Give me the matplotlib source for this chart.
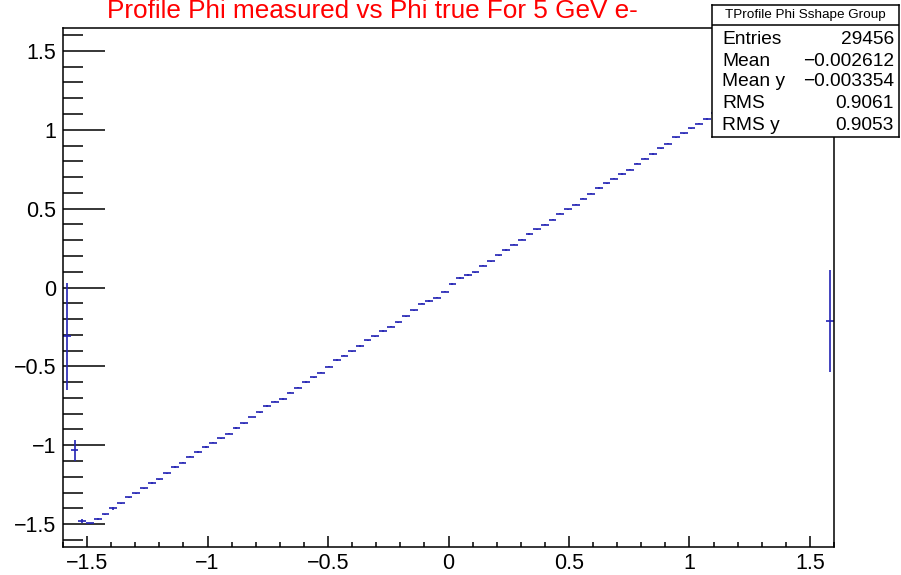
import numpy as np
import matplotlib
matplotlib.use("Agg")
import matplotlib.pyplot as plt
from matplotlib.ticker import MultipleLocator

plt.rcParams['font.family'] = ['Liberation Sans', 'DejaVu Sans']

# ---- data: TProfile, 100 bins from -1.6 to 1.6 ----
x_min, x_max, n_bins = -1.6, 1.6, 100
profile_mean = [
    -0.31, -1.032, -1.481, -1.495, -1.470, -1.438, -1.400, -1.368, -1.330, -1.305,
    -1.273, -1.241, -1.216, -1.178, -1.140, -1.110, -1.072, -1.043, -1.013, -0.983,
    -0.956, -0.926, -0.888, -0.860, -0.821, -0.792, -0.754, -0.724, -0.704, -0.666,
    -0.634, -0.598, -0.568, -0.539, -0.501, -0.462, -0.433, -0.403, -0.373, -0.335,
    -0.308, -0.276, -0.249, -0.220, -0.181, -0.143, -0.103, -0.084, -0.065, -0.027,
    0.022, 0.060, 0.079, 0.098, 0.138, 0.166, 0.205, 0.235, 0.272, 0.302,
    0.340, 0.369, 0.399, 0.429, 0.467, 0.497, 0.526, 0.564, 0.594, 0.632,
    0.662, 0.689, 0.719, 0.748, 0.786, 0.816, 0.846, 0.884, 0.911, 0.951,
    0.979, 1.008, 1.038, 1.068, 1.106, 1.135, 1.165, 1.196, 1.228, 1.258,
    1.290, 1.322, 1.352, 1.384, 1.414, 1.445, 1.470, 1.490, 1.480, -0.211,
]
profile_err = [
    0.34, 0.067, 0.012, 0.003, 0.006, 0.003, 0.010, 0.003, 0.003, 0.003,
    0.003, 0.006, 0.003, 0.003, 0.006, 0.003, 0.003, 0.006, 0.006, 0.003,
    0.003, 0.003, 0.006, 0.003, 0.003, 0.003, 0.006, 0.003, 0.006, 0.003,
    0.003, 0.006, 0.003, 0.006, 0.003, 0.006, 0.003, 0.003, 0.006, 0.003,
    0.003, 0.006, 0.003, 0.003, 0.003, 0.003, 0.003, 0.006, 0.003, 0.003,
    0.006, 0.006, 0.006, 0.003, 0.003, 0.003, 0.003, 0.006, 0.003, 0.003,
    0.006, 0.003, 0.003, 0.003, 0.003, 0.003, 0.006, 0.003, 0.003, 0.006,
    0.003, 0.003, 0.006, 0.003, 0.003, 0.003, 0.006, 0.003, 0.003, 0.003,
    0.003, 0.003, 0.003, 0.006, 0.006, 0.003, 0.003, 0.003, 0.003, 0.003,
    0.003, 0.003, 0.003, 0.003, 0.003, 0.003, 0.003, 0.003, 0.003, 0.323,
]
title_text = "Profile Phi measured vs Phi true For 5 GeV e-"
stats_title = "TProfile Phi Sshape Group"
stats_labels = ["Entries", "Mean", "Mean y", "RMS", "RMS y"]
stats_values = ["29456", "\u22120.002612", "\u22120.003354", "0.9061", "0.9053"]

# ---- figure ----
W, H = 901, 575
fig = plt.figure(figsize=(W / 100, H / 100), dpi=100)

def fx(px):
    return px / W

def fy(py):
    return 1 - py / H

ax_l, ax_r, ax_t, ax_b = 63, 834, 28, 547
ax = fig.add_axes([fx(ax_l), fy(ax_b), fx(ax_r - ax_l), (ax_b - ax_t) / H])

edges = np.linspace(x_min, x_max, n_bins + 1)
centers = 0.5 * (edges[:-1] + edges[1:])
half_w = 0.5 * (edges[1] - edges[0])
blue = '#2323b4'
ax.errorbar(centers, profile_mean, xerr=half_w, yerr=profile_err, fmt='none',
            ecolor=blue, elinewidth=1.2, capsize=0)

ax.set_xlim(x_min, x_max)
ax.set_ylim(-1.645, 1.645)

ax.xaxis.set_major_locator(MultipleLocator(0.5))
ax.xaxis.set_minor_locator(MultipleLocator(0.1))
ax.yaxis.set_major_locator(MultipleLocator(0.5))
ax.yaxis.set_minor_locator(MultipleLocator(0.1))

ax.tick_params(axis='x', which='major', direction='in', length=8, width=1.1,
               labelsize=15.5, pad=4, top=False)
ax.tick_params(axis='x', which='minor', direction='in', length=3.8, width=1.1, top=False)
ax.tick_params(axis='y', which='major', direction='in', length=30, width=1.1,
               labelsize=15.5, pad=5, right=False)
ax.tick_params(axis='y', which='minor', direction='in', length=14.5, width=1.1, right=False)

for s in ax.spines.values():
    s.set_linewidth(1.1)

def fmt(v, pos):
    s = ('%g' % round(v, 2))
    if s == '-0':
        s = '0'
    return s.replace('-', '\u2212')

ax.xaxis.set_major_formatter(plt.FuncFormatter(fmt))
ax.yaxis.set_major_formatter(plt.FuncFormatter(fmt))

# ---- title ----
fig.text(fx(372), fy(18.5), title_text, color='#ff0000', fontsize=18.8,
         ha='center', va='baseline')

# ---- stats box ----
bx_l, bx_r, bx_t, bx_b = 712, 899, 5, 137
sb = fig.add_axes([fx(bx_l), fy(bx_b), fx(bx_r - bx_l), (bx_b - bx_t) / H])
sb.set_facecolor('white')
sb.set_xticks([])
sb.set_yticks([])
sb.set_xlim(bx_l, bx_r)
sb.set_ylim(bx_b, bx_t)
for s in sb.spines.values():
    s.set_linewidth(1.1)
sb.axhline(25, color='black', linewidth=1.1)
sb.text(0.5 * (bx_l + bx_r), 15, stats_title, fontsize=9.7, ha='center', va='center')
rows_y = [40, 61, 82, 104, 126]
for lab, val, yy in zip(stats_labels, stats_values, rows_y):
    sb.text(722, yy, lab, fontsize=13.8, ha='left', va='center')
    sb.text(894, yy, val, fontsize=13.8, ha='right', va='center')

fig.savefig('out.png', dpi=100)
